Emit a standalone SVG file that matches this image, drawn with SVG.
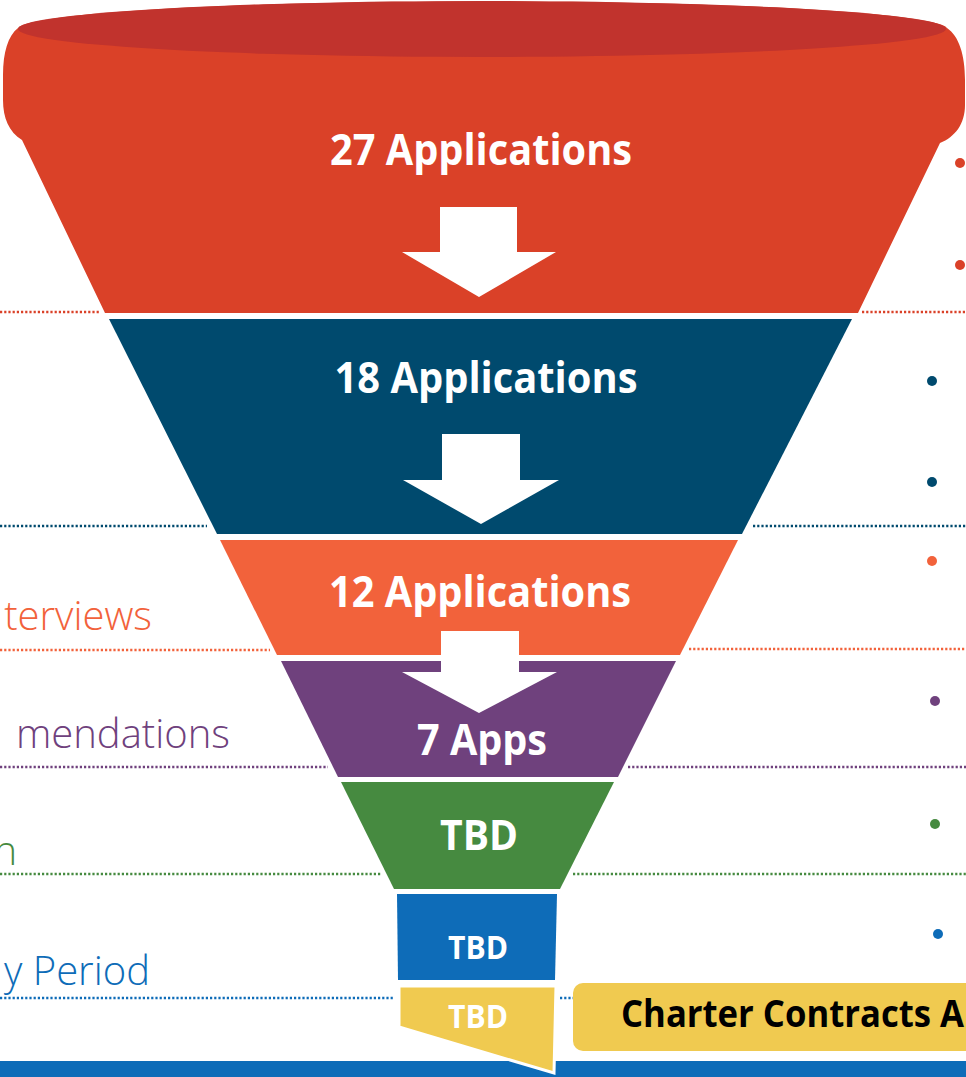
<svg xmlns="http://www.w3.org/2000/svg" width="966" height="1077" viewBox="0 0 966 1077">
<style>
.lbl{font-family:"Open Sans","Liberation Sans",sans-serif;font-weight:700;fill:#ffffff;text-anchor:middle}
.side{font-family:"Open Sans","Liberation Sans",sans-serif;font-weight:350;font-size:40px;text-anchor:end}
.dot{stroke-width:2.5;stroke-dasharray:2.2 2;fill:none}
.arrow{fill:#ffffff}
</style>
<rect width="966" height="1077" fill="#ffffff"/>
<g id="guides">
<line class="dot" x1="0" y1="312" x2="100" y2="312" stroke="#DA4128"/>
<line class="dot" x1="862" y1="312" x2="966" y2="312" stroke="#DA4128"/>
<line class="dot" x1="0" y1="526" x2="207" y2="526" stroke="#004A6E"/>
<line class="dot" x1="753" y1="526" x2="966" y2="526" stroke="#004A6E"/>
<line class="dot" x1="0" y1="650" x2="270" y2="650" stroke="#F2623B"/>
<line class="dot" x1="689" y1="649" x2="966" y2="649" stroke="#F2623B"/>
<line class="dot" x1="0" y1="767" x2="328" y2="767" stroke="#6F417D"/>
<line class="dot" x1="628" y1="767" x2="966" y2="767" stroke="#6F417D"/>
<line class="dot" x1="0" y1="874" x2="382" y2="874" stroke="#468A40"/>
<line class="dot" x1="573" y1="874" x2="966" y2="874" stroke="#468A40"/>
<line class="dot" x1="0" y1="998" x2="393" y2="998" stroke="#0E6CB8"/>
<line class="dot" x1="560" y1="998" x2="573" y2="998" stroke="#0E6CB8"/>
</g>
<g id="side-labels">
<text class="side" x="152" y="630" fill="#F2623B">terviews</text>
<text class="side" x="230" y="748" fill="#6F417D">mendations</text>
<text class="side" x="17" y="865" fill="#468A40">n</text>
<text class="side" x="150" y="985" fill="#0E6CB8">y Period</text>
</g>
<g id="bullets">
<circle cx="960" cy="163" r="5" fill="#DA4128"/>
<circle cx="960" cy="265" r="5" fill="#DA4128"/>
<circle cx="932" cy="381" r="5" fill="#004A6E"/>
<circle cx="932" cy="482" r="5" fill="#004A6E"/>
<circle cx="932" cy="561" r="5" fill="#F2623B"/>
<circle cx="935" cy="701" r="5" fill="#6F417D"/>
<circle cx="935" cy="824" r="5" fill="#468A40"/>
<circle cx="938" cy="934" r="5" fill="#0E6CB8"/>
</g>
<rect id="bottom-bar" x="0" y="1061" width="966" height="16" fill="#0E6CB8"/>
<g id="stage-27">
<path d="M18,28 A465,28 0 0 1 947,28 C959,36 965,55 965,80 L965,105 C965,124 955,137 940,143 L858,313 L105,313 L22,140 C9,132 3,118 3,100 L3,75 C3,52 8,36 18,28 Z" fill="#DA4128"/>
<ellipse cx="482" cy="29" rx="464" ry="28" fill="#C1332D"/>
<text class="lbl" x="481" y="165" font-size="43" textLength="302" lengthAdjust="spacingAndGlyphs">27 Applications</text>
</g>
<g id="stage-18">
<polygon points="109,319 852,319 742,534 217,534" fill="#004A6E"/>
<text class="lbl" x="486" y="393" font-size="43" textLength="303" lengthAdjust="spacingAndGlyphs">18 Applications</text>
</g>
<g id="stage-12">
<polygon points="220,540 738,540 680,655 277,655" fill="#F2623B"/>
<text class="lbl" x="480" y="607" font-size="43" textLength="302" lengthAdjust="spacingAndGlyphs">12 Applications</text>
</g>
<g id="stage-7">
<polygon points="281,661 676,661 618,777 338,777" fill="#6F417D"/>
</g>
<g id="stage-green">
<polygon points="341,782 614,782 560,889 394,889" fill="#468A40"/>
<text class="lbl" x="479" y="850" font-size="42" textLength="78" lengthAdjust="spacingAndGlyphs">TBD</text>
</g>
<g id="stage-blue">
<polygon points="397,894 557,894 555,980 398,980" fill="#0E6CB8"/>
<text class="lbl" x="478" y="959" font-size="33" textLength="60" lengthAdjust="spacingAndGlyphs">TBD</text>
</g>
<g id="stage-yellow">
<polygon points="399,986 556,986 554,1073 399,1027" fill="#F0CA50" stroke="#ffffff" stroke-width="3" stroke-linejoin="miter"/>
<text class="lbl" x="478" y="1028" font-size="33" textLength="60" lengthAdjust="spacingAndGlyphs">TBD</text>
</g>
<g id="callout">
<rect x="573" y="983" width="420" height="68" rx="10" fill="#F0CA50"/>
<text x="621" y="1027" font-family="'Open Sans','Liberation Sans',sans-serif" font-weight="700" font-size="37" fill="#000000" textLength="343" lengthAdjust="spacingAndGlyphs">Charter Contracts A</text>
</g>
<g id="connectors">
<polygon class="arrow" points="440,207 517,207 517,252 556,252 479,297 402,252 440,252"/>
<polygon class="arrow" points="442,434 520,434 520,480 559,480 481,524 403,480 442,480"/>
<polygon class="arrow" points="441,631 519,631 519,672 557,672 479,713 402,672 441,672"/>
</g>
<text class="lbl" x="482" y="755" font-size="43" textLength="130" lengthAdjust="spacingAndGlyphs">7 Apps</text>
</svg>
